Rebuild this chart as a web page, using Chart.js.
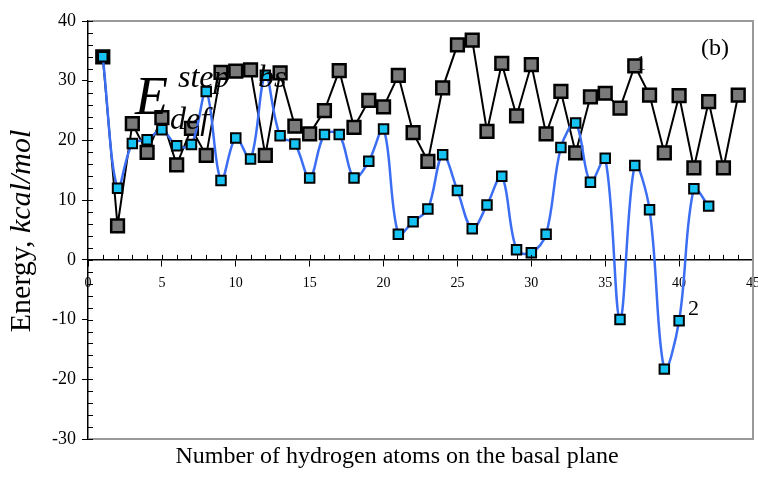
<!DOCTYPE html>
<html><head><meta charset="utf-8">
<style>html,body{margin:0;padding:0;background:#fff;}canvas{display:block;}</style>
<script src="https://cdn.jsdelivr.net/npm/chart.js@4.4.1/dist/chart.umd.min.js"></script>
</head><body>
<canvas id="c" width="758" height="495"></canvas>
<script>
// ---- data ----
const hydrogenCounts1 = [1,2,3,4,5,6,7,8,9,10,11,12,13,14,15,16,17,18,19,20,21,22,23,24,25,26,27,28,29,30,31,32,33,34,35,36,37,38,39,40,41,42,43,44];
const energySeries1 = [34,5.7,22.8,18,23.8,15.9,22,17.5,31.4,31.6,31.8,17.5,31.3,22.4,21.1,25,31.7,22.2,26.7,25.6,30.9,21.3,16.5,28.8,36,36.8,21.5,32.9,24.1,32.7,21.1,28.2,17.9,27.3,27.9,25.4,32.5,27.6,17.9,27.5,15.4,26.5,15.4,27.6];
const hydrogenCounts2 = [1,2,3,4,5,6,7,8,9,10,11,12,13,14,15,16,17,18,19,20,21,22,23,24,25,26,27,28,29,30,31,32,33,34,35,36,37,38,39,40,41,42];
const energySeries2 = [34,12,19.5,20.1,21.8,19.1,19.3,28.2,13.3,20.4,16.9,30.9,20.8,19.4,13.7,21,21,13.7,16.5,21.9,4.3,6.4,8.5,17.6,11.6,5.2,9.2,14,1.7,1.2,4.3,18.8,22.9,13,17,-10,15.8,8.4,-18.3,-10.2,11.9,9];
const xTickValues = [0,5,10,15,20,25,30,35,40,45];
const yTickValues = [-30,-20,-10,0,10,20,30,40];
const xTitle = 'Number of hydrogen atoms on the basal plane';
const yTitleRegular = 'Energy, ';
const yTitleItalic = 'kcal/mol';
const seriesLabels = ['1','2'];
const panelLabel = '(b)';

const FONT = '"Liberation Serif", "Times New Roman", serif';

const decor = {
  id: 'decor',
  afterDraw(chart) {
    const {ctx, chartArea: a, scales: {x, y}} = chart;
    ctx.save();
    // gray frame
    ctx.strokeStyle = '#9a9a9a';
    ctx.lineWidth = 2;
    ctx.beginPath();
    ctx.moveTo(a.left + 1, a.top);
    ctx.lineTo(a.right, a.top);
    ctx.lineTo(a.right, a.bottom);
    ctx.lineTo(a.left + 1, a.bottom);
    ctx.stroke();
    // minor / inner ticks
    ctx.strokeStyle = '#000';
    ctx.lineWidth = 1;
    const y0 = y.getPixelForValue(0);
    ctx.beginPath();
    for (let v = 1; v < 45; v++) {
      const px = Math.round(x.getPixelForValue(v)) + 0.5;
      ctx.moveTo(px, y0); ctx.lineTo(px, y0 - 5);
    }
    for (let v = -30; v <= 40; v += 2) {
      const py = Math.round(y.getPixelForValue(v)) + 0.5;
      ctx.moveTo(a.left, py); ctx.lineTo(a.left + 5, py);
    }
    ctx.stroke();
    // texts
    ctx.fillStyle = '#000';
    ctx.textAlign = 'left';
    ctx.textBaseline = 'alphabetic';
    ctx.font = 'italic 54px ' + FONT;
    ctx.fillText('E', 135, 114);
    ctx.font = 'italic 32px ' + FONT;
    ctx.fillText('step', 178, 87);
    ctx.fillText('bs', 258, 87);
    ctx.fillText('def', 170, 129);
    ctx.font = '20px ' + FONT;
    ctx.fillText(seriesLabels[0], 636, 70);
    ctx.font = '22px ' + FONT;
    ctx.fillText(seriesLabels[1], 688, 315);
    ctx.font = '24px ' + FONT;
    ctx.fillText(panelLabel, 701, 55);
    // x title
    ctx.font = '24px ' + FONT;
    ctx.textAlign = 'center';
    ctx.fillText(xTitle, 397, 463);
    // y title
    ctx.save();
    ctx.translate(30, 231);
    ctx.rotate(-Math.PI / 2);
    ctx.font = '30px ' + FONT;
    const w1 = ctx.measureText(yTitleRegular).width;
    ctx.font = 'italic 30px ' + FONT;
    const w2 = ctx.measureText(yTitleItalic).width;
    const start = -(w1 + w2) / 2;
    ctx.textAlign = 'left';
    ctx.font = '30px ' + FONT;
    ctx.fillText(yTitleRegular, start, 0);
    ctx.font = 'italic 30px ' + FONT;
    ctx.fillText(yTitleItalic, start + w1, 0);
    ctx.restore();
    ctx.restore();
  }
};

new Chart(document.getElementById('c'), {
  type: 'line',
  data: {
    datasets: [
      {
        label: seriesLabels[1],
        data: hydrogenCounts2.map((h, i) => ({x: h, y: energySeries2[i]})),
        borderColor: '#3b6ef2',
        borderWidth: 2.5,
        tension: 0.35,
        pointStyle: 'rect',
        pointRadius: 6.7,
        pointBackgroundColor: '#16c3f2',
        pointBorderColor: '#000',
        pointBorderWidth: 2,
        clip: false
      },
      {
        label: seriesLabels[0],
        data: hydrogenCounts1.map((h, i) => ({x: h, y: energySeries1[i]})),
        borderColor: '#000',
        borderWidth: 2,
        tension: 0,
        pointStyle: 'rect',
        pointRadius: 9,
        pointBackgroundColor: '#7a7a7a',
        pointBorderColor: '#000',
        pointBorderWidth: 2.5,
        clip: false
      }
    ]
  },
  options: {
    responsive: false,
    animation: false,
    devicePixelRatio: 1,
    layout: {autoPadding: false, padding: {left: 0, top: 21, right: 5, bottom: 56}},
    plugins: {legend: {display: false}, tooltip: {enabled: false}},
    scales: {
      x: {
        type: 'linear', min: 0, max: 45, position: {y: 0},
        afterBuildTicks: s => { s.ticks = xTickValues.map(v => ({value: v})); },
        afterFit: s => { s.paddingLeft = 0; s.paddingRight = 0; },
        ticks: {autoSkip: false, maxRotation: 0, padding: 9, color: '#000', font: {family: FONT, size: 14}},
        grid: {drawOnChartArea: false, drawTicks: true, tickLength: 6, color: '#000', lineWidth: 1},
        border: {display: true, color: '#000', width: 1.5}
      },
      y: {
        type: 'linear', min: -30, max: 40, position: 'left',
        afterBuildTicks: s => { s.ticks = yTickValues.map(v => ({value: v})); },
        afterFit: s => { s.width = 88; },
        ticks: {padding: 6, color: '#000', font: {family: FONT, size: 18}},
        grid: {drawOnChartArea: false, drawTicks: true, tickLength: 6, color: '#000', lineWidth: 1},
        border: {display: true, color: '#000', width: 1.5}
      }
    }
  },
  plugins: [decor]
});
</script>
</body></html>
